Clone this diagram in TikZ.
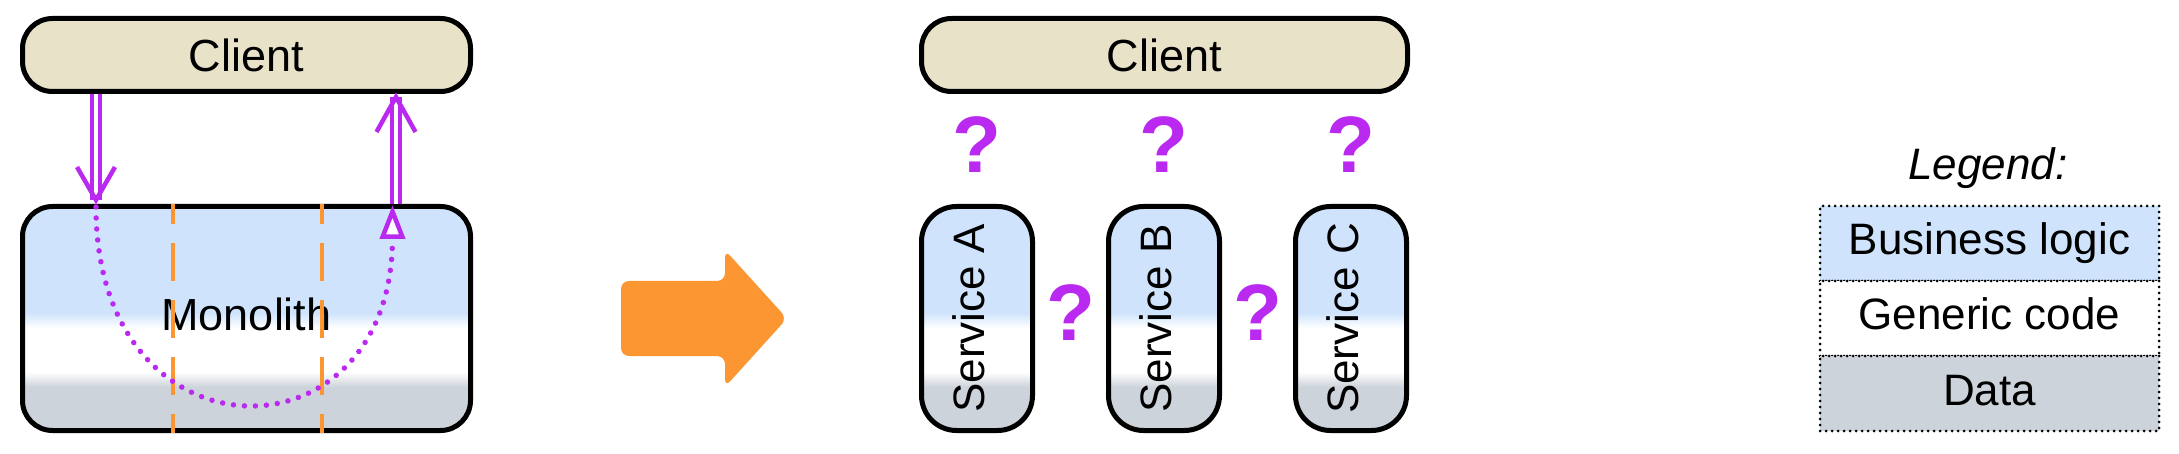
\documentclass[tikz,border=0pt]{standalone}
\usepackage{fontspec}
\setmainfont{Liberation Sans}
\usetikzlibrary{arrows.meta,calc}
\definecolor{clientc}{HTML}{E8E2C8}
\definecolor{bizc}{HTML}{CFE4FC}
\definecolor{datac}{HTML}{CDD3DA}
\definecolor{purp}{HTML}{BA29F0}
\definecolor{orng}{HTML}{FB9633}
\pgfdeclareverticalshading{layers}{100bp}{color(0bp)=(datac); color(34.7bp)=(datac); color(38.1bp)=(white); color(47.9bp)=(white); color(51.2bp)=(bizc); color(100bp)=(bizc)}
\tikzset{
  box/.style={draw=black, line width=5pt, inner sep=0pt},
  clientbox/.style={box, fill=clientc, rounded corners=30pt, minimum width=448pt, minimum height=73pt, font=\fontsize{45}{54}\selectfont},
  layered/.style={box, shading=layers, rounded corners=#1},
  svcbox/.style={layered=35pt, minimum width=111pt, minimum height=224pt},
  lbl/.style={inner sep=0pt, font=\fontsize{45}{54}\selectfont},
  svclbl/.style={lbl, rotate=90, font=\fontsize{44}{52}\selectfont},
  qm/.style={inner sep=0pt, text=purp, font=\fontsize{80}{96}\selectfont\bfseries},
  dbl/.style={draw=purp, line width=4.3pt, double=white, double distance=3.5pt},
  vhead/.style={draw=purp, line width=4.5pt, line join=miter},
  odash/.style={draw=orng, line width=4pt, dash pattern=on 38pt off 19pt, dash phase=18pt},
  dotc/.style={draw=purp, line width=5.5pt, line cap=round, dash pattern=on 0pt off 11pt},
  legrow/.style={draw=black, line width=3pt, line cap=round, dash pattern=on 0pt off 6pt, minimum width=339pt, minimum height=75pt, inner sep=0pt, text height=31pt, text depth=8pt, font=\fontsize{44}{52}\selectfont},
}
\begin{document}
\begin{tikzpicture}[x=1pt, y=-1pt]
\useasboundingbox (0,0) rectangle (2179,454);
% ---------- left: monolith ----------
\node[clientbox] (cl1) at (246.5,55) {Client};
\node[layered=30pt, minimum width=448pt, minimum height=224pt] (mono) at (246.5,318.5) {};
\node[lbl] (monot) at (246.5,314) {Monolith};
\draw[odash] (173,204) -- (173,433);
\draw[odash] (322,204) -- (322,433);
% request arrow (down)
\coordinate (dtip) at (96,200);
\draw[dbl] (cl1.south -| dtip) -- (dtip);
\draw[vhead] ($(dtip)+(-19,-33)$) -- (dtip) -- ($(dtip)+(19,-33)$);
% response arrow (up)
\coordinate (utip) at (396,97);
\draw[dbl] (mono.north -| utip) -- (utip);
\draw[vhead] ($(utip)+(-19.5,35)$) -- (utip) -- ($(utip)+(19.5,35)$);
% dotted path through the monolith
\coordinate (pin) at (96,207);
\coordinate (pout) at (392.5,205);
\draw[dotc, -{Triangle[length=34pt, width=25pt, line width=4.5pt, fill=white, sep=0pt]}] (pin) .. controls (96,467) and (392.5,467) .. (pout);
% ---------- big orange arrow ----------
\fill[orng, rounded corners=8pt] (621,281) -- (725,281) -- (725,250) -- (787,318.5) -- (725,387) -- (725,356) -- (621,356) -- cycle;
% ---------- right: microservices ----------
\node[clientbox, minimum width=486pt] (cl2) at (1164.5,55) {Client};
\node[svcbox] (sa) at (977,318.5) {};
\node[svcbox] (sb) at (1164,318.5) {};
\node[svcbox] (sc) at (1351,318.5) {};
\node[svclbl] (sat) at (969,318.5) {Service A};
\node[svclbl] (sbt) at (1156,318.5) {Service B};
\node[svclbl] (sct) at (1343,318.5) {Service C};
\node[qm] (q1) at (977,145) {?};
\node[qm] (q2) at (1164,145) {?};
\node[qm] (q3) at (1351,145) {?};
\node[qm] (q4) at (1070.5,313) {?};
\node[qm] (q5) at (1257.5,313) {?};
% ---------- legend ----------
\node[inner sep=0pt, anchor=base, font=\fontsize{44}{52}\selectfont\itshape] (legt) at (1988,180) {Legend:};
\node[legrow, fill=bizc] (lb) at (1989.5,243.5) {Business logic};
\node[legrow, fill=white] (lg) at (1989.5,318.5) {Generic code};
\node[legrow, fill=datac] (ld) at (1989.5,393.5) {Data};
\end{tikzpicture}
\end{document}
